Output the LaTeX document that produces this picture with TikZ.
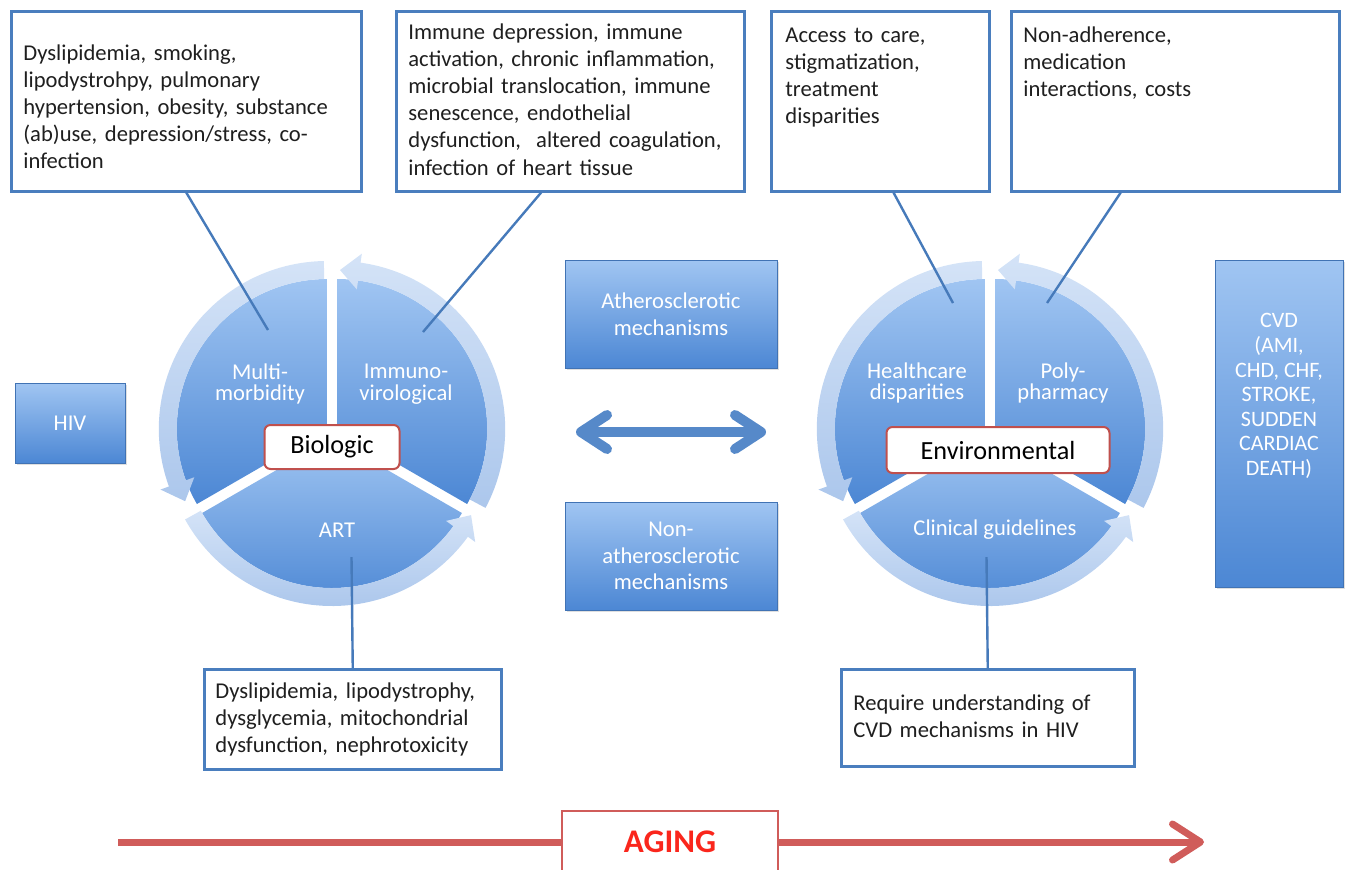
\documentclass[tikz,border=0pt]{standalone}
\usepackage{fontspec}
\setmainfont{Carlito}
\usetikzlibrary{calc,arrows.meta,shadows}

\definecolor{segtop}{RGB}{160,197,242}
\definecolor{segbot}{RGB}{76,135,212}
\definecolor{ringtop}{RGB}{212,227,247}
\definecolor{ringbot}{RGB}{172,199,236}
\definecolor{boxline}{RGB}{74,126,190}
\definecolor{linkblue}{RGB}{70,122,186}
\definecolor{hubred}{RGB}{192,80,77}
\definecolor{agered}{RGB}{208,92,90}
\definecolor{agetext}{RGB}{250,38,28}
\definecolor{twowayblue}{RGB}{86,137,201}

\tikzset{
  riskbox/.style={draw=boxline, line width=1.25pt, fill=white, inner sep=0pt, anchor=north west},
  risktext/.style={anchor=base west, inner sep=0pt, align=left, text=black!88, font=\fontsize{11.3}{13.6}\selectfont},
  bluebox/.style={top color=segtop, bottom color=segbot, draw=segbot!85!black, line width=0.3pt, inner sep=0pt,
    text=white, align=center, font=\fontsize{11.3}{13.4}\selectfont,
    drop shadow={opacity=0.25, shadow xshift=0.8pt, shadow yshift=-1pt}},
  bluetext/.style={text=white, align=center, inner sep=0pt, font=\fontsize{11}{12.3}\selectfont},
  segtext/.style={text=white, align=center, inner sep=0pt, font=\fontsize{11.3}{10.8}\selectfont},
  hubbox/.style={draw=hubred, line width=1pt, fill=white, rounded corners=3pt, inner sep=0pt, font=\fontsize{13.1}{15}\selectfont},
  link/.style={draw=linkblue, line width=1.2pt},
  twoway/.style={draw=twowayblue, line width=5pt,
    {Straight Barb[length=13pt,width=17pt,round]}-{Straight Barb[length=13pt,width=17pt,round]}},
  agearrow/.style={draw=agered, line width=3.5pt},
}

% one pie slice of a cycle, angles in screen order
\newcommand{\cycleslice}[2]{%
  \shade[top color=segtop, bottom color=segbot]
    (0,0) -- (#1:150) arc[start angle=#1, end angle=#2, radius=150] -- cycle;}
% curved arrow round a slice, head at the second angle
\newcommand{\cyclearrow}[2]{%
  \pgfmathsetmacro{\headang}{#2+7}%
  \shade[top color=ringtop, bottom color=ringbot]
    (#1:168) arc[start angle=#1, end angle=\headang, radius=168]
    -- (\headang:177) -- (#2:159) -- (\headang:141) -- (\headang:150)
    arc[start angle=\headang, end angle=#1, radius=150] -- cycle;}

\begin{document}
\begin{tikzpicture}[x=0.5pt, y=-0.5pt]
  \clip (0,0) rectangle (1352,869);

  % biologic cycle
  \begin{scope}[shift={(332,432)}]
    \begin{scope}[shift={(210:6)}] \cycleslice{150}{270} \cyclearrow{269}{153} \end{scope}
    \begin{scope}[shift={(330:6)}] \cycleslice{-90}{30} \cyclearrow{28}{-89} \end{scope}
    \begin{scope}[shift={(90:6)}] \cycleslice{30}{150} \cyclearrow{151}{29} \end{scope}
  \end{scope}

  % environmental cycle
  \begin{scope}[shift={(990,432)}]
    \begin{scope}[shift={(210:6)}] \cycleslice{150}{270} \cyclearrow{269}{153} \end{scope}
    \begin{scope}[shift={(330:6)}] \cycleslice{-90}{30} \cyclearrow{28}{-89} \end{scope}
    \begin{scope}[shift={(90:6)}] \cycleslice{30}{150} \cyclearrow{151}{29} \end{scope}
  \end{scope}

  \node[segtext] (multi) at (260,384) {Multi-\\morbidity};
  \node[segtext] (immuno) at (406,384) {Immuno-\\virological};
  \node[segtext] (art) at (337,530) {ART};
  \node[segtext] (health) at (917,383) {Healthcare\\disparities};
  \node[segtext] (poly) at (1063,383) {Poly-\\pharmacy};
  \node[segtext] (guide) at (995,530) {Clinical guidelines};

  \node[hubbox, minimum width=67.5pt, minimum height=22pt] (biologic) at (332,447) {Biologic};
  \node[hubbox, minimum width=111.5pt, minimum height=23pt] (environ) at (998,450) {Environmental};

  \node[bluebox, minimum width=55pt, minimum height=40pt] (hiv) at (70,423) {HIV};
  \node[bluebox, minimum width=106pt, minimum height=54pt] (athero) at (671,314) {Atherosclerotic\\mechanisms};
  \node[bluebox, minimum width=106pt, minimum height=54pt] (nonathero) at (671,556) {Non-\\atherosclerotic\\mechanisms};
  \node[bluebox, minimum width=64pt, minimum height=163.5pt] (cvd) at (1279,423.5) {};
  \node[bluetext] (cvdtext) at (1279,396) {CVD\\(AMI,\\CHD, CHF,\\STROKE,\\SUDDEN\\CARDIAC\\DEATH)};

  \coordinate (dleft) at (576,432);
  \coordinate (dright) at (766,432);
  \draw[twoway] (dleft) -- (dright);

  % risk factor boxes
  \node[riskbox, minimum width=175pt, minimum height=90pt] (multirisk) at (10,10) {};
  \node[risktext, text width=170pt] (multiriskt) at (23,60)
    {Dyslipidemia, smoking,\\lipodystrohpy, pulmonary\\hypertension, obesity, substance\\(ab)use, depression/stress, co-\\infection};
  \node[riskbox, minimum width=174pt, minimum height=90pt] (immrisk) at (395,10) {};
  \node[risktext, text width=168pt] (immriskt) at (408,39)
    {Immune depression, immune\\activation, chronic inflammation,\\microbial translocation, immune\\senescence, endothelial\\dysfunction,~ altered coagulation,\\infection of heart tissue};
  \node[riskbox, minimum width=109pt, minimum height=90pt] (carerisk) at (770,10) {};
  \node[risktext, text width=100pt] (careriskt) at (785,42)
    {Access to care,\\stigmatization,\\treatment\\disparities};
  \node[riskbox, minimum width=164pt, minimum height=90pt] (polyrisk) at (1010,10) {};
  \node[risktext, text width=150pt] (polyriskt) at (1023,42)
    {Non-adherence,\\medication\\interactions, costs};
  \node[riskbox, minimum width=148.5pt, minimum height=50pt] (artrisk) at (203,668) {};
  \node[risktext, text width=140pt] (artriskt) at (215,698)
    {Dyslipidemia, lipodystrophy,\\dysglycemia, mitochondrial\\dysfunction, nephrotoxicity};
  \node[riskbox, minimum width=146.5pt, minimum height=48.5pt] (guiderisk) at (840,668) {};
  \node[risktext, text width=140pt] (guideriskt) at (853,710)
    {Require understanding of\\CVD mechanisms in HIV};

  \coordinate (multipt) at (268,330);
  \coordinate (immpt) at (423,332);
  \coordinate (artpt) at (351.5,557);
  \coordinate (carept) at (953,303);
  \coordinate (polypt) at (1047,303);
  \coordinate (guidept) at (986.5,557);
  \draw[link] (multirisk.south) -- (multipt);
  \draw[link] ($(immrisk.south west)!0.417!(immrisk.south east)$) -- (immpt);
  \draw[link] ($(carerisk.south west)!0.56!(carerisk.south east)$) -- (carept);
  \draw[link] ($(polyrisk.south west)!0.335!(polyrisk.south east)$) -- (polypt);
  \draw[link] (artpt) -- (artrisk.north);
  \draw[link] (guidept) -- (guiderisk.north);

  % aging axis
  \node[draw=agered, line width=1.3pt, fill=white, minimum width=108pt, minimum height=31pt, inner sep=0pt,
    text=agetext, font=\fontsize{16.5}{18}\selectfont\bfseries] (aging) at (670,842) {AGING};
  \coordinate (agestart) at (118,842);
  \coordinate (ageend) at (1204,842);
  \draw[agearrow] (agestart) -- (aging.west);
  \draw[agearrow, -{Straight Barb[length=14pt,width=18pt,round]}] (aging.east) -- (ageend);
\end{tikzpicture}
\end{document}
